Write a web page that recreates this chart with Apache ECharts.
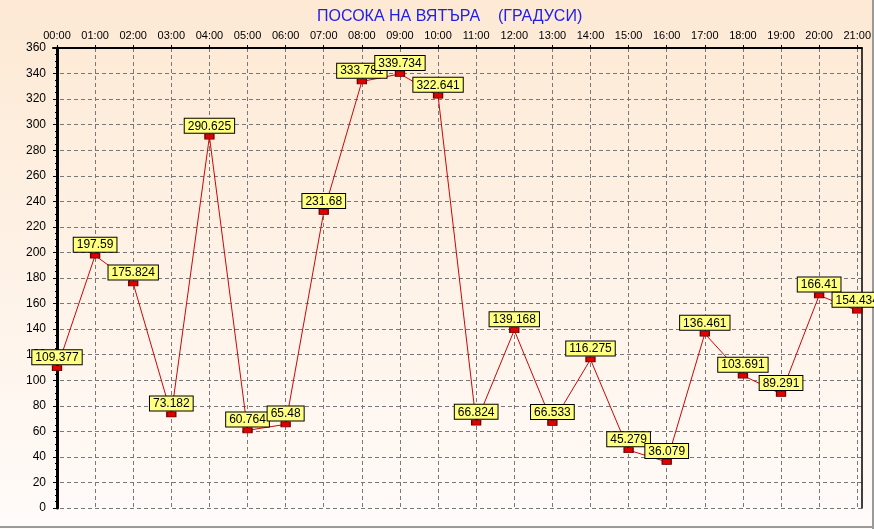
<!DOCTYPE html>
<html>
<head>
<meta charset="utf-8">
<script src="https://cdn.jsdelivr.net/npm/echarts@6/dist/echarts.min.js"></script>
<style>
  html, body { margin: 0; padding: 0; }
  #chart { width: 874px; height: 529px; }
</style>
</head>
<body>
<div id="chart"></div>
<script>
// часове по оста X
const hours = ['00:00','01:00','02:00','03:00','04:00','05:00','06:00','07:00','08:00','09:00','10:00',
  '11:00','12:00','13:00','14:00','15:00','16:00','17:00','18:00','19:00','20:00','21:00'];
// посока на вятъра, градуси
const direction = [109.377, 197.59, 175.824, 73.182, 290.625, 60.764, 65.48, 231.68, 333.781, 339.734, 322.641,
  66.824, 139.168, 66.533, 116.275, 45.279, 36.079, 136.461, 103.691, 89.291, 166.41, 154.434];
const hourIdx = hours.map((h, i) => i);

let chart = echarts.init(document.getElementById('chart'));
const font = 'Liberation Sans, Arial, sans-serif';
const dash = { color: '#787878', width: 1, type: [4, 3] };

chart.setOption({
  animation: false,
  backgroundColor: {
    type: 'linear', x: 0, y: 0, x2: 0, y2: 1,
    colorStops: [{ offset: 0, color: '#fde9d4' }, { offset: 1, color: '#fffbf9' }]
  },
  title: {
    text: 'ПОСОКА НА ВЯТЪРА    (ГРАДУСИ)',
    left: 312, top: 4,
    textStyle: { color: '#2020e8', fontSize: 16, fontWeight: 'normal', fontFamily: font }
  },
  graphic: [
    { type: 'line', shape: { x1: 0, y1: 527, x2: 874, y2: 527 }, style: { stroke: '#9a9a9a', lineWidth: 2 } },
    { type: 'line', shape: { x1: 873, y1: 0, x2: 873, y2: 529 }, style: { stroke: '#9a9a9a', lineWidth: 2 } }
  ],
  grid: { left: 53, right: 9, top: 48, bottom: 21 },
  xAxis: {
    type: 'value', position: 'top',
    min: -0.105, max: 21.12,
    axisLine: { show: true, onZero: false, lineStyle: { color: '#000', width: 2 } },
    axisTick: { show: true, length: 3, customValues: hourIdx, lineStyle: { color: '#000' } },
    axisLabel: {
      customValues: hourIdx, margin: 7, color: '#000', fontSize: 11, fontFamily: font,
      formatter: v => hours[Math.round(v)]
    },
    splitLine: { show: true, lineStyle: dash }
  },
  yAxis: [{
    type: 'value', min: 0, max: 360, interval: 20,
    axisLine: { show: true, lineStyle: { color: '#000', width: 3 } },
    axisTick: { show: true, length: 4, lineStyle: { color: '#000' } },
    minorTick: { show: true, splitNumber: 4, length: 2, lineStyle: { color: '#000' } },
    axisLabel: { margin: 7, color: '#000', fontSize: 12, fontFamily: font },
    splitLine: { show: true, lineStyle: dash }
  }, {
    type: 'value', position: 'right', min: 0, max: 360,
    axisLine: { show: true, lineStyle: { color: '#000', width: 1.5 } },
    axisTick: { show: false }, axisLabel: { show: false }, splitLine: { show: false }
  }],
  series: [{
    type: 'line',
    data: direction.map((v, i) => [i, v]),
    symbol: 'rect',
    symbolSize: [9, 5],
    lineStyle: { color: '#c80808', width: 1 },
    itemStyle: { color: '#e00000', borderColor: '#700000', borderWidth: 1 },
    label: {
      show: true, position: 'top', distance: 1,
      formatter: p => p.value[1],
      color: '#000', fontSize: 12, fontFamily: font, lineHeight: 13,
      backgroundColor: '#ffff80', borderColor: '#000', borderWidth: 1,
      padding: [1, 3, 0, 3]
    },
    z: 3
  }]
});
</script>
</body>
</html>
